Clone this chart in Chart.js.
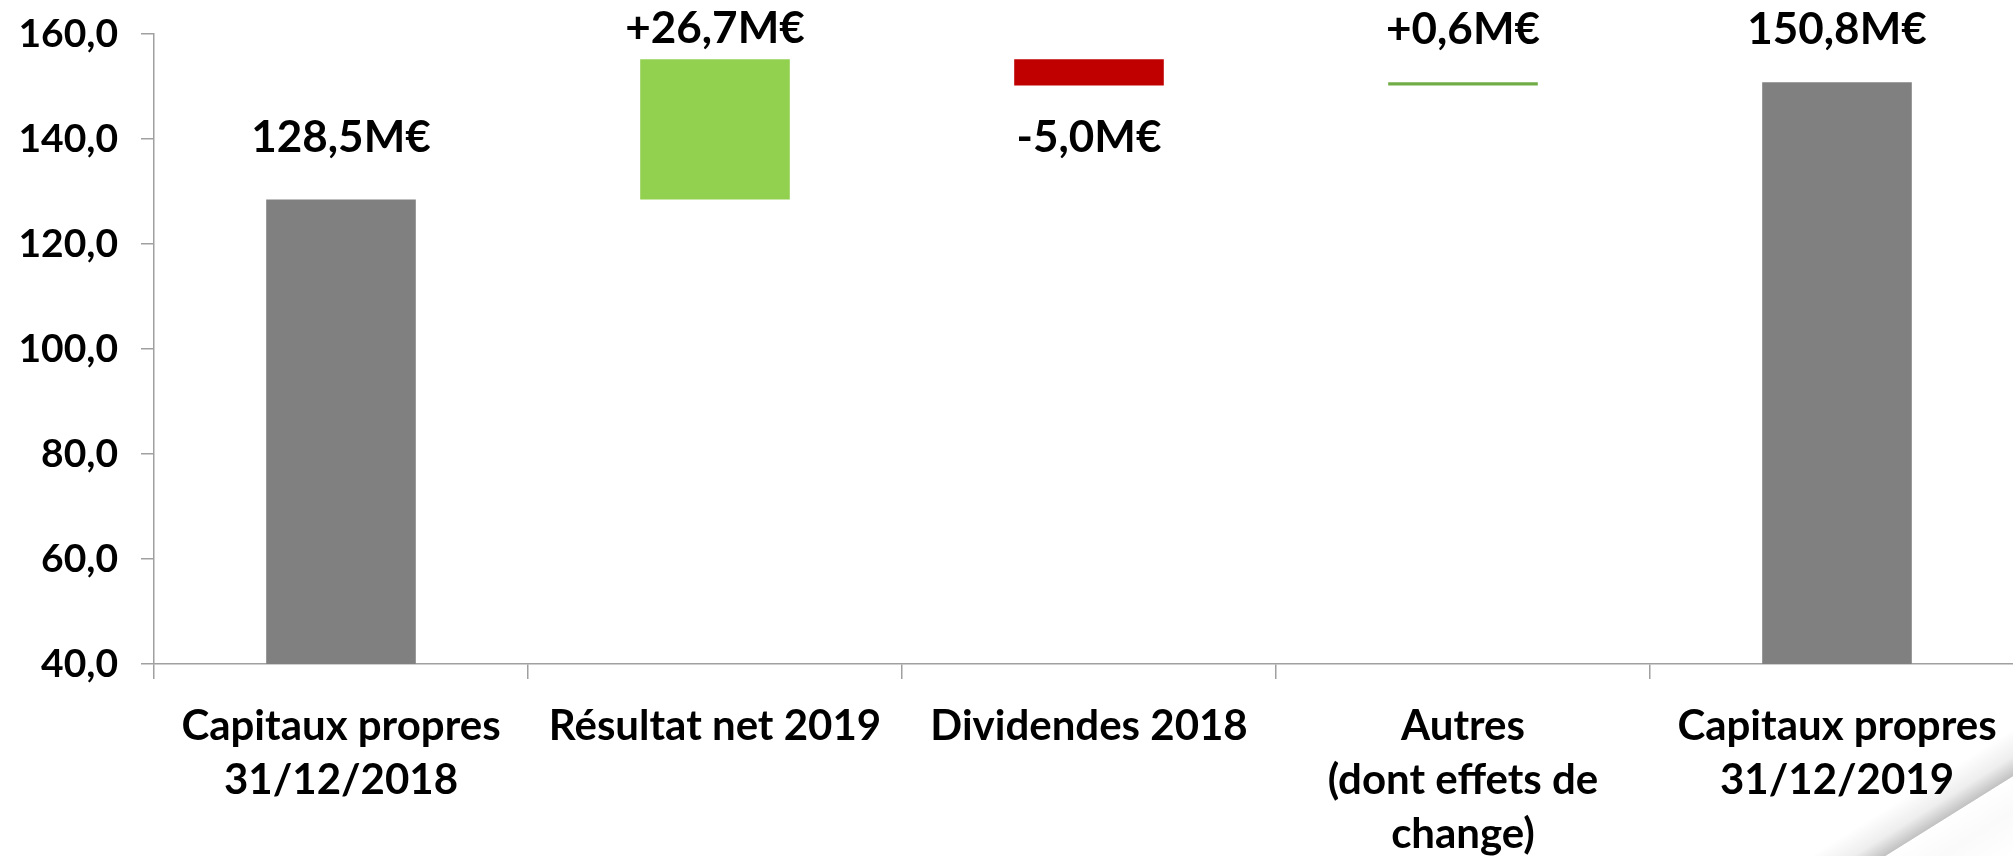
<!DOCTYPE html>
<html>
<head>
<meta charset="utf-8">
<script src="https://cdn.jsdelivr.net/npm/chart.js@4/dist/chart.umd.min.js"></script>
<style>
    html, body { margin: 0; padding: 0; background: #fff; overflow: hidden; }
    #wrap { position: relative; width: 2013px; height: 856px; overflow: hidden; background: #fff; }
    #chart { position: absolute; left: 0; top: 0; z-index: 2; }
    /* page-curl shadow in the lower right corner, sits behind the canvas */
    #curl {
        position: absolute; left: 1780px; top: 700px; width: 233px; height: 156px; z-index: 1;
        background: linear-gradient(148deg,
            rgba(255,255,255,0) 0%, rgba(255,255,255,0) 58%,
            rgba(140,140,140,0.15) 67%, rgba(120,120,120,0.45) 73.4%,
            #fff 73.7%, #fafafa 85%, #fff 100%);
    }
</style>
</head>
<body>
<div id="wrap">
    <div id="curl"></div>
    <canvas id="chart" width="2030" height="856"></canvas>
</div>
<script>
const categories = [
    ['Capitaux propres', '31/12/2018'],
    'Résultat net 2019',
    'Dividendes 2018',
    ['Autres', '(dont effets de', 'change)'],
    ['Capitaux propres', '31/12/2019']
];
const openingEquity = 128.5;
const movements = [26.7, -5.0, 0.6];
const closingEquity = 150.8;
const barLabels = ['128,5M€', '+26,7M€', '-5,0M€', '+0,6M€', '150,8M€'];
const barColors = ['#808080', '#92D050', '#C00000', '#70AD47', '#808080'];
const yTicks = [40, 60, 80, 100, 120, 140, 160];

// waterfall: totals from zero, movements float on the running sum
function waterfall() {
    let run = openingEquity;
    const out = [[0, openingEquity]];
    movements.forEach(m => {
        out.push([run, run + m]);
        run += m;
    });
    out.push([0, closingEquity]);
    return out;
}

const FONT = 'Lato, "Open Sans", sans-serif';
const AXIS = '#a0a0a0';

const barValueLabels = {
    id: 'barValueLabels',
    afterDatasetsDraw(chart, args, opts) {
        const ctx = chart.ctx;
        const meta = chart.getDatasetMeta(0);
        ctx.save();
        ctx.font = 'bold 44px ' + FONT;
        ctx.fillStyle = '#000';
        ctx.textAlign = 'center';
        ctx.textBaseline = 'middle';
        meta.data.forEach((bar, i) => {
            const top = Math.min(bar.y, bar.base);
            const bottom = Math.max(bar.y, bar.base);
            const off = opts.offsets[i];
            const y = off < 0 ? top + off : bottom + off;
            ctx.fillText(barLabels[i], bar.x, y);
        });
        ctx.restore();
    }
};

new Chart(document.getElementById('chart').getContext('2d'), {
    type: 'bar',
    data: {
        labels: categories,
        datasets: [{
            data: waterfall(),
            backgroundColor: barColors,
            borderWidth: 0,
            barPercentage: 0.4,
            categoryPercentage: 1.0
        }]
    },
    plugins: [barValueLabels],
    options: {
        responsive: false,
        animation: false,
        layout: { padding: { top: 34, right: 6, left: 0, bottom: 0 } },
        plugins: {
            legend: { display: false },
            tooltip: { enabled: false },
            barValueLabels: { offsets: [-62, -30, 52, -52, -52] }
        },
        scales: {
            x: {
                grid: { offset: true, drawOnChartArea: false, drawTicks: true, tickLength: 15, color: AXIS, lineWidth: 1.5 },
                border: { display: true, color: AXIS, width: 1.5 },
                ticks: {
                    color: '#000',
                    padding: 20,
                    maxRotation: 0,
                    autoSkip: false,
                    font: { family: FONT, size: 42, weight: 'bold', lineHeight: 1.286 }
                },
                afterFit: scale => { scale.height = 192; }
            },
            y: {
                min: yTicks[0],
                max: yTicks[yTicks.length - 1],
                afterBuildTicks: scale => { scale.ticks = yTicks.map(v => ({ value: v })); },
                grid: { drawOnChartArea: false, drawTicks: true, tickLength: 13, color: AXIS, lineWidth: 1.5 },
                border: { display: true, color: AXIS, width: 1.5 },
                ticks: {
                    color: '#000',
                    padding: 23,
                    font: { family: FONT, size: 39, weight: 'bold' },
                    callback: v => v.toFixed(1).replace('.', ',')
                },
                afterFit: scale => {
                    scale.width = 154;
                    scale.paddingTop = 0;
                    scale.paddingBottom = 0;
                }
            }
        }
    }
});
</script>
</body>
</html>
